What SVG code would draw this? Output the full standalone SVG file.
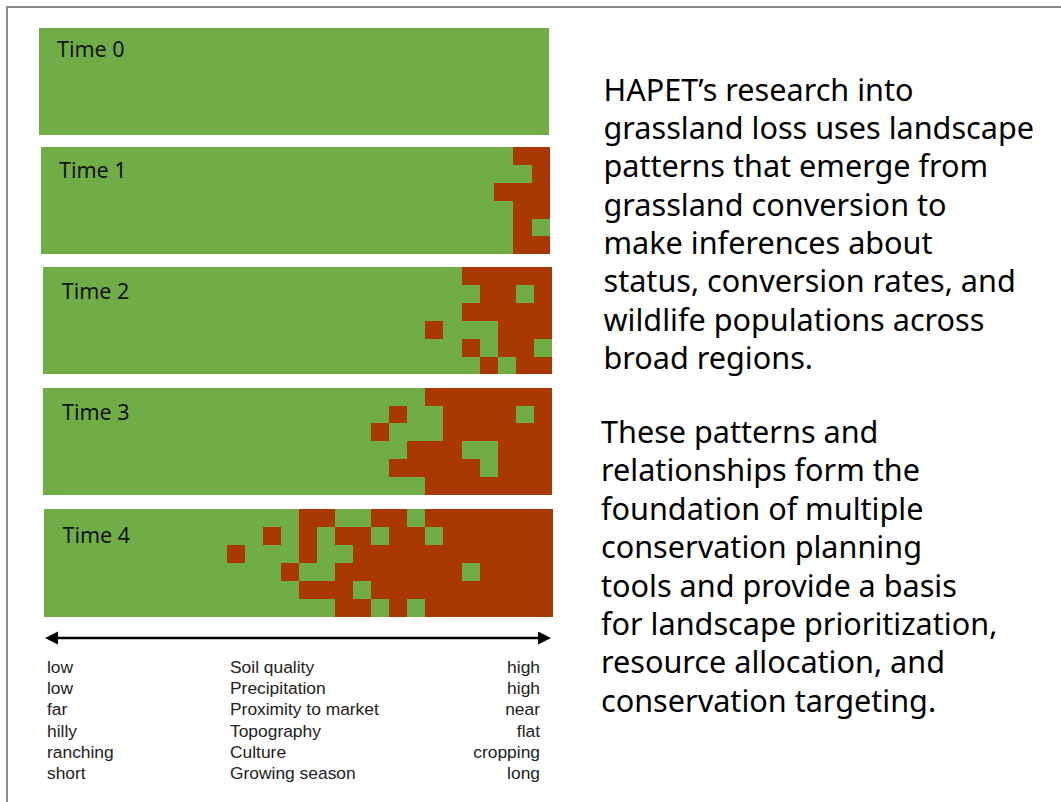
<svg xmlns="http://www.w3.org/2000/svg" width="1061" height="802" viewBox="0 0 1061 802">
<style>
.g{fill:#70ad47;shape-rendering:crispEdges}
.r{fill:#aa3803;shape-rendering:crispEdges}
.tl{font-family:"Noto Sans","Open Sans",sans-serif;font-size:21.5px;fill:#141414}
.body{font-family:"Noto Sans","Open Sans",sans-serif;font-size:30.6px;fill:#000}
.lab{font-family:"Liberation Sans",Arial,sans-serif;font-size:17.4px;fill:#222}
.end{text-anchor:end}
</style>
<defs>
<marker id="ah" markerUnits="userSpaceOnUse" markerWidth="14" markerHeight="14" refX="1" refY="6.5" orient="auto-start-reverse">
<path d="M0,0 L13,6.5 L0,13 z" fill="#000"/>
</marker>
</defs>
<rect x="0" y="0" width="1061" height="802" fill="#fff"/>
<rect x="7" y="7" width="1064" height="806" fill="none" stroke="#8c8c8c" stroke-width="2"/>

<g id="time0">
<rect class="g" x="39" y="28.3" width="509.7" height="106.7"/>
<text class="tl" x="57" y="57">Time 0</text>
</g>

<g id="time1">
<rect class="g" x="40.7" y="147.3" width="508.8" height="106.7"/>
<rect class="r" x="512.5" y="147.3" width="37" height="106.7"/>
<rect class="g" x="512.5" y="165.1" width="19" height="17.8"/>
<rect class="r" x="494" y="182.9" width="18.5" height="17.8"/>
<rect class="g" x="531.5" y="218.5" width="18" height="17.8"/>
<text class="tl" x="59" y="178">Time 1</text>
</g>

<g id="time2">
<rect class="g" x="43.3" y="267.3" width="508.7" height="107"/>
<rect class="r" x="461.5" y="267.3" width="90.5" height="17.9"/>
<rect class="r" x="479.5" y="285.1" width="36" height="17.9"/>
<rect class="r" x="533.5" y="285.1" width="18.5" height="17.9"/>
<rect class="r" x="461.5" y="303" width="90.5" height="17.9"/>
<rect class="r" x="425" y="320.8" width="18" height="17.9"/>
<rect class="r" x="497.5" y="320.8" width="54.5" height="17.9"/>
<rect class="r" x="461.5" y="338.6" width="18" height="17.9"/>
<rect class="r" x="497.5" y="338.6" width="36" height="17.9"/>
<rect class="r" x="479.5" y="356.5" width="18" height="17.8"/>
<rect class="r" x="515.5" y="356.5" width="36.5" height="17.8"/>
<text class="tl" x="61.7" y="299.3">Time 2</text>
</g>

<g id="time3">
<rect class="g" x="43" y="387.6" width="509" height="107.4"/>
<rect class="r" x="425" y="387.6" width="127" height="18"/>
<rect class="r" x="389" y="405.5" width="18" height="17.9"/>
<rect class="r" x="443" y="405.5" width="72.5" height="17.9"/>
<rect class="r" x="533.5" y="405.5" width="18.5" height="17.9"/>
<rect class="r" x="371" y="423.4" width="18" height="17.9"/>
<rect class="r" x="443" y="423.4" width="109" height="17.9"/>
<rect class="r" x="407" y="441.3" width="54.5" height="17.9"/>
<rect class="r" x="497.5" y="441.3" width="54.5" height="17.9"/>
<rect class="r" x="389" y="459.2" width="90.5" height="17.9"/>
<rect class="r" x="497.5" y="459.2" width="54.5" height="17.9"/>
<rect class="r" x="425" y="477.1" width="127" height="17.9"/>
<text class="tl" x="62" y="420">Time 3</text>
</g>

<g id="time4">
<rect class="g" x="44" y="508.5" width="509" height="108"/>
<rect class="r" x="299" y="508.5" width="36" height="18"/>
<rect class="r" x="371" y="508.5" width="36" height="18"/>
<rect class="r" x="425" y="508.5" width="128" height="18"/>
<rect class="r" x="262.7" y="526.5" width="18.1" height="18"/>
<rect class="r" x="299" y="526.5" width="18" height="18"/>
<rect class="r" x="335" y="526.5" width="36" height="18"/>
<rect class="r" x="389" y="526.5" width="36" height="18"/>
<rect class="r" x="443" y="526.5" width="110" height="18"/>
<rect class="r" x="226.5" y="544.5" width="18.1" height="18"/>
<rect class="r" x="299" y="544.5" width="18" height="18"/>
<rect class="r" x="353" y="544.5" width="200" height="18"/>
<rect class="r" x="280.8" y="562.5" width="18.2" height="18"/>
<rect class="r" x="335" y="562.5" width="126.5" height="18"/>
<rect class="r" x="479.5" y="562.5" width="73.5" height="18"/>
<rect class="r" x="299" y="580.5" width="54" height="18"/>
<rect class="r" x="371" y="580.5" width="182" height="18"/>
<rect class="r" x="335" y="598.5" width="36" height="18"/>
<rect class="r" x="389" y="598.5" width="18" height="18"/>
<rect class="r" x="425" y="598.5" width="128" height="18"/>
<text class="tl" x="62.5" y="543.3">Time 4</text>
</g>

<g id="connectors">
<line x1="57" y1="638" x2="539" y2="638" stroke="#000" stroke-width="2.5" marker-start="url(#ah)" marker-end="url(#ah)"/>
</g>

<g id="axis-labels">
<text class="lab" x="47" y="672.7">low</text>
<text class="lab" x="47" y="694">low</text>
<text class="lab" x="47" y="715.3">far</text>
<text class="lab" x="47" y="736.7">hilly</text>
<text class="lab" x="47" y="758">ranching</text>
<text class="lab" x="47" y="779.3">short</text>
<text class="lab" x="230" y="672.7">Soil quality</text>
<text class="lab" x="230" y="694">Precipitation</text>
<text class="lab" x="230" y="715.3">Proximity to market</text>
<text class="lab" x="230" y="736.7">Topography</text>
<text class="lab" x="230" y="758">Culture</text>
<text class="lab" x="230" y="779.3">Growing season</text>
<text class="lab end" x="540" y="672.7">high</text>
<text class="lab end" x="540" y="694">high</text>
<text class="lab end" x="540" y="715.3">near</text>
<text class="lab end" x="540" y="736.7">flat</text>
<text class="lab end" x="540" y="758">cropping</text>
<text class="lab end" x="540" y="779.3">long</text>
</g>

<g id="paragraph1">
<text class="body" x="603.5" y="100.7">HAPET’s research into</text>
<text class="body" x="603.5" y="139">grassland loss uses landscape</text>
<text class="body" x="603.5" y="177.3">patterns that emerge from</text>
<text class="body" x="603.5" y="215.6">grassland conversion to</text>
<text class="body" x="603.5" y="253.9">make inferences about</text>
<text class="body" x="603.5" y="292.2">status, conversion rates, and</text>
<text class="body" x="603.5" y="330.5">wildlife populations across</text>
<text class="body" x="603.5" y="368.8">broad regions.</text>
</g>

<g id="paragraph2">
<text class="body" x="601" y="443">These patterns and</text>
<text class="body" x="601" y="481.4">relationships form the</text>
<text class="body" x="601" y="519.8">foundation of multiple</text>
<text class="body" x="601" y="558.2">conservation planning</text>
<text class="body" x="601" y="596.6">tools and provide a basis</text>
<text class="body" x="601" y="635">for landscape prioritization,</text>
<text class="body" x="601" y="673.4">resource allocation, and</text>
<text class="body" x="601" y="711.8">conservation targeting.</text>
</g>
</svg>
